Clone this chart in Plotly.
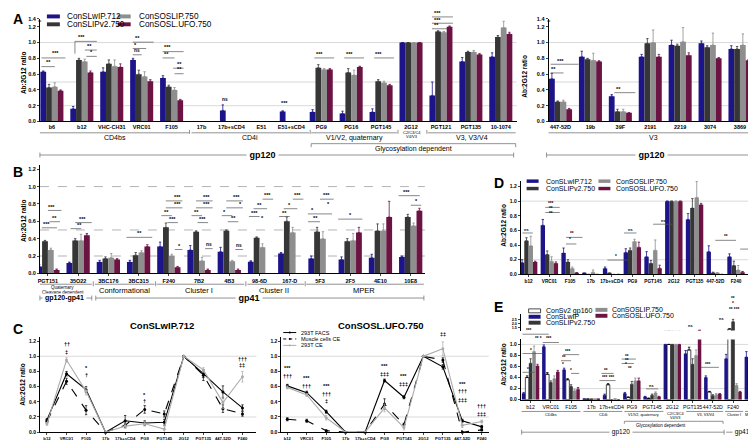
import plotly.graph_objects as go

W, H = 756, 440
FONT = "Liberation Sans, Arial, Helvetica, sans-serif"
BLUE, DARK, GRAY, RED = "#1c1488", "#363636", "#8e8e8e", "#6b1343"
LGRID = "#cfcfcf"

# ---------------- data ----------------
series_names = ["ConSLwIP.712", "ConSLIPv2.750", "ConSOSLIP.750", "ConSOSL.UFO.750"]

a_cats = ["b6", "b12", "VHC-CH31", "VRC01", "F105", "17b", "17b+sCD4", "E51", "E51+sCD4",
          "PG9", "PG16", "PGT145", "2G12", "PGT121", "PGT135", "10-1074"]
a_wip = [0.63, 0.16, 0.63, 0.78, 0.55, None, 0.14, None, 0.125, 0.12, 0.10, 0.12, 1.0, 0.33, 0.76, 0.82]
a_v2 = [0.43, 0.78, 0.73, 0.60, 0.44, None, None, None, None, 0.68, 0.62, 0.51, 1.0, 1.14, 0.88, 1.07]
a_sos = [0.44, 0.76, 0.70, 0.57, 0.40, None, None, None, None, 0.66, 0.59, 0.49, 1.0, 1.13, 0.88, 1.19]
a_ufo = [0.39, 0.62, 0.69, 0.51, 0.27, None, None, None, None, 0.66, 0.69, 0.46, 1.0, 1.20, 0.85, 1.11]
a_wip_err = [0.01, 0.03, 0.05, 0.02, 0.03, 0, 0.07, 0, 0.01, 0.03, 0.03, 0.04, 0, 0.17, 0.05, 0.05]
a_v2_err = [0.04, 0.02, 0.05, 0.05, 0.02, 0, 0, 0, 0, 0.04, 0.05, 0.02, 0, 0.01, 0.01, 0.02]
a_sos_err = [0.05, 0.03, 0.08, 0.06, 0.03, 0, 0, 0, 0, 0.01, 0.06, 0.02, 0, 0.01, 0.02, 0.08]
a_ufo_err = [0.01, 0.02, 0.04, 0.02, 0.01, 0, 0, 0, 0, 0.01, 0.01, 0.01, 0, 0.01, 0.01, 0.02]

v3_cats = ["447-52D", "19b", "39F", "2191", "2219", "3074", "3869"]
v3_wip = [0.54, 0.82, 0.32, 0.82, 0.97, 0.99, 0.92]
v3_v2 = [0.25, 0.79, 0.125, 0.99, 0.96, 0.94, 0.92]
v3_sos = [0.25, 0.775, 0.125, 1.00, 1.01, 0.97, 0.97]
v3_ufo = [0.155, 0.76, 0.11, 0.82, 0.84, 0.80, 0.775]
v3_wip_err = [0.07, 0.07, 0.02, 0.03, 0.06, 0.03, 0.04]
v3_v2_err = [0.01, 0.01, 0.03, 0.06, 0.02, 0.02, 0.03]
v3_sos_err = [0.02, 0.09, 0.03, 0.16, 0.18, 0.15, 0.14]
v3_ufo_err = [0.01, 0.01, 0.0, 0.03, 0.03, 0.01, 0.01]

b_cats = ["PGT151", "35O22", "3BC176", "3BC315", "F240", "7B2", "4B3", "98-6D", "167-D",
          "5F3", "2F5", "4E10", "10E8"]
b_wip = [0.08, 0.12, 0.13, 0.13, 0.31, 0.27, 0.25, 0.135, 0.23, 0.17, 0.16, 0.18, 0.19]
b_v2 = [0.37, 0.38, 0.17, 0.21, 0.53, 0.48, 0.49, 0.41, 0.60, 0.48, 0.37, 0.49, 0.65]
b_sos = [0.27, 0.38, 0.18, 0.24, 0.20, 0.145, 0.14, 0.30, 0.47, 0.40, 0.38, 0.49, 0.55]
b_ufo = [0.04, 0.44, 0.16, 0.31, 0.07, 0.04, 0.04, None, None, None, 0.47, 0.65, 0.72]
b_wip_err = [0.02, 0.01, 0.02, 0.02, 0.05, 0.05, 0.05, 0.01, 0.01, 0.03, 0.03, 0.04, 0.01]
b_v2_err = [0.01, 0.02, 0.02, 0.03, 0.05, 0.01, 0.01, 0.01, 0.05, 0.05, 0.03, 0.08, 0.03]
b_sos_err = [0.02, 0.07, 0.05, 0.02, 0.02, 0.04, 0.01, 0.04, 0.06, 0.08, 0.08, 0.08, 0.03]
b_ufo_err = [0.01, 0.02, 0.01, 0.02, 0.01, 0.01, 0.01, 0, 0, 0, 0.06, 0.18, 0.03]

c_cats = ["b12", "VRC01", "F105", "17b", "17b+sCD4", "PG9", "PGT145", "2G12", "PGT135", "447-52D", "F240"]
c_names = ["293T FACS", "Muscle cells CE", "293T CE"]
c1_facs = [0.16, 0.77, 0.56, 0.0, 0.15, 0.12, 0.13, 1.0, 0.77, 0.53, 0.32]
c1_muscle = [0.14, 0.67, 0.29, 0.0, 0.09, 0.30, 0.24, 1.0, 0.75, 0.31, 0.24]
c1_ce = [0.11, 0.95, 0.54, 0.0, 0.08, 0.11, 0.04, 1.0, 0.82, 0.39, 0.73]
c1_facs_err = [0.02, 0.03, 0.04, 0, 0.07, 0.03, 0.04, 0, 0.05, 0.08, 0.04]
c1_muscle_err = [0.02, 0.04, 0.06, 0, 0.03, 0.05, 0.04, 0, 0.07, 0.05, 0.03]
c1_ce_err = [0.02, 0.03, 0.05, 0, 0.03, 0.03, 0.05, 0, 0.03, 0.08, 0.07]
c2_facs = [0.61, 0.52, 0.27, 0.0, 0.0, 0.68, 0.46, 1.0, 0.86, 0.15, 0.07]
c2_muscle = [0.17, 0.15, 0.02, 0.0, 0.0, 0.37, 0.10, 1.0, 0.95, 0.0, 0.03]
c2_ce = [0.59, 0.49, 0.19, 0.0, 0.0, 0.32, 0.06, 1.0, 1.10, 0.09, 0.14]
c2_facs_err = [0.02, 0.02, 0.02, 0, 0, 0.02, 0.02, 0, 0.03, 0.02, 0.02]
c2_muscle_err = [0.02, 0.02, 0.01, 0, 0, 0.07, 0.02, 0, 0.03, 0.01, 0.01]
c2_ce_err = [0.02, 0.02, 0.03, 0, 0, 0.05, 0.03, 0, 0.09, 0.03, 0.02]

d_cats = ["b12", "VRC01", "F105", "17b", "17b+sCD4", "PG9", "PGT145", "2G12", "PGT135", "447-52D", "F240"]
d_wip = [0.16, 0.67, 0.29, 0.01, 0.08, 0.30, 0.24, 1.0, 0.75, 0.31, 0.24]
d_v2 = [0.46, 0.27, 0.17, 0.0, 0.01, 0.33, 0.15, 1.0, 0.905, 0.02, 0.12]
d_sos = [0.39, 0.18, 0.08, 0.03, 0.0, 0.45, 0.33, 1.0, 1.05, 0.015, 0.06]
d_ufo = [0.17, 0.15, 0.015, 0.0, 0.0, 0.37, 0.085, 1.0, 0.95, 0.0, 0.03]
d_wip_err = [0.04, 0.08, 0.07, 0.01, 0.02, 0.05, 0.07, 0, 0.08, 0.08, 0.04]
d_v2_err = [0.04, 0.05, 0.03, 0, 0.01, 0.03, 0.04, 0, 0.13, 0.01, 0.06]
d_sos_err = [0.13, 0.06, 0.02, 0.03, 0, 0.03, 0.14, 0, 0.22, 0.01, 0.06]
d_ufo_err = [0.01, 0.02, 0.01, 0, 0, 0.07, 0.04, 0, 0.02, 0, 0.01]

e_cats = ["b12", "VRC01", "F105", "17b", "17b+sCD4", "PG9", "PGT145", "2G12", "PGT135", "447-52D", "F240", "2F5"]
e_names = ["ConSv2 gp160", "ConSLwIP", "ConSLIPv2.750", "ConSOSLIP.750", "ConSOSL.UFO.750"]
e_wip = [0.11, 0.96, 0.54, 0.01, 0.08, 0.11, 0.05, 1.0, 0.83, 0.40, 0.74, 0.77]
e_gp160 = [0.40, 0.46, 0.36, 0.01, 0.27, 0.04, 0.02, 1.0, 0.90, 0.14, 1.30, 0.70]
e_v2 = [0.66, 0.31, 0.24, 0.005, 0.0, 0.28, 0.08, 1.0, 0.64, 0.07, 2.2, 0.28]
e_sos = [0.87, 0.38, 0.16, 0.005, 0.01, 0.34, 0.12, 1.0, 0.80, 0.09, 0.26, 0.68]
e_ufo = [0.61, 0.50, 0.19, 0.005, 0.0, 0.34, 0.05, 1.0, 1.11, 0.10, 0.14, 0.96]
e_wip_err = [0.02, 0.03, 0.03, 0, 0.02, 0.02, 0.01, 0, 0.06, 0.03, 0.08, 0.10]
e_gp160_err = [0.03, 0.03, 0.02, 0, 0.02, 0.01, 0.01, 0, 0.05, 0.01, 0, 0.05]
e_v2_err = [0.08, 0.03, 0.03, 0, 0, 0.05, 0.02, 0, 0.10, 0.02, 0.30, 0.10]
e_sos_err = [0.10, 0.05, 0.03, 0, 0, 0.05, 0.02, 0, 0.10, 0.02, 0.03, 0.20]
e_ufo_err = [0.03, 0.03, 0.03, 0, 0, 0.05, 0.01, 0, 0.05, 0.01, 0.01, 0.15]

# ---------------- geometry (pixel boxes of each plotting area) ----------------
P = {
    "A1": dict(i=1, px=(30, 508), py=(8, 112), xr=(-0.4, 15.53), yr=(0, 1.3)),
    "A2": dict(i=2, px=(540, 752), py=(8, 112), xr=(-0.4, 6.67), yr=(0, 1.3)),
    "B": dict(i=3, px=(30, 416), py=(156, 266), xr=(-0.264, 12.47), yr=(0, 1.25)),
    "C1": dict(i=4, px=(30, 247), py=(330, 427), xr=(-0.36, 10.71), yr=(0, 1.26)),
    "C2": dict(i=5, px=(272, 480), py=(330, 427), xr=(-0.31, 10.36), yr=(0, 1.26)),
    "D": dict(i=6, px=(512, 750), py=(172, 267), xr=(-0.385, 11.06), yr=(0, 1.28)),
    "E1": dict(i=7, px=(512, 752), py=(333, 394), xr=(-0.49, 11.33), yr=(0, 1.09)),
    "E2": dict(i=8, px=(512, 752), py=(307, 324), xr=(-0.49, 11.33), yr=(1.1, 3.2)),
}


def ax_ids(p):
    i = P[p]["i"]
    return ("x" if i == 1 else f"x{i}"), ("y" if i == 1 else f"y{i}")


def ux(p, u):
    g = P[p]
    x0, x1 = g["xr"]
    a, b = g["px"]
    return (a + (u - x0) / (x1 - x0) * (b - a)) / W


def vy(p, v):
    g = P[p]
    y0, y1 = g["yr"]
    top, bot = g["py"]
    return 1 - (bot - (v - y0) / (y1 - y0) * (bot - top)) / H


def PX(x):
    return x / W


def PY(y):
    return 1 - y / H


fig = go.Figure()
annotations = []
shapes = []


def text(x, y, s, size=7, bold=False, color="black", xanchor="center", angle=0, bg=None):
    d = dict(x=PX(x), y=PY(y), xref="paper", yref="paper", text=s, showarrow=False,
             xanchor=xanchor, yanchor="middle", textangle=angle,
             font=dict(family=FONT, size=size, color=color, weight="bold" if bold else "normal"))
    if bg:
        d["bgcolor"] = bg
        d["borderpad"] = 0
    annotations.append(d)


def hline(x0, x1, y, color="black", width=0.8, dash=None):
    shapes.append(dict(type="line", xref="paper", yref="paper", x0=PX(x0), x1=PX(x1), y0=PY(y), y1=PY(y),
                       line=dict(color=color, width=width, dash=dash)))


def vline(x, y0, y1, color="black", width=0.8):
    shapes.append(dict(type="line", xref="paper", yref="paper", x0=PX(x), x1=PX(x), y0=PY(y0), y1=PY(y1),
                       line=dict(color=color, width=width)))


def grid(p, vals, dash=None, color=LGRID):
    xa, ya = ax_ids(p)
    for v in vals:
        shapes.append(dict(type="line", xref=f"{xa} domain", yref=ya, x0=0, x1=1, y0=v, y1=v,
                           layer="below", line=dict(color=color, width=0.8, dash=dash)))


def sig(p, u, v, s, size=5.5):
    annotations.append(dict(x=ux(p, u), y=vy(p, v), xref="paper", yref="paper", text=s, showarrow=False,
                            xanchor="center", yanchor="middle",
                            font=dict(family=FONT, size=size, color="black", weight="bold")))


def sigline(p, u0, u1, v, color="#555555"):
    shapes.append(dict(type="line", xref="paper", yref="paper", x0=ux(p, u0), x1=ux(p, u1),
                       y0=vy(p, v), y1=vy(p, v), line=dict(color=color, width=0.7)))


def add_bars(p, cats, vals_list, err_list, colors, total):
    xa, ya = ax_ids(p)
    n = len(vals_list)
    w = total / n
    for k, (vals, errs, col) in enumerate(zip(vals_list, err_list, colors)):
        is_white = col == "white"
        fig.add_trace(go.Bar(
            x=list(range(len(cats))), y=vals, width=w, offset=-total / 2 + k * w,
            marker=dict(color=col, line=dict(width=0.7 if is_white else 0, color="black")),
            error_y=dict(type="data", symmetric=False, array=errs, arrayminus=[0] * len(errs),
                         color="black" if is_white else col, thickness=0.8, width=1.2),
            xaxis=xa, yaxis=ya, showlegend=False, hoverinfo="skip"))


cols4 = [BLUE, DARK, GRAY, RED]
add_bars("A1", a_cats, [a_wip, a_v2, a_sos, a_ufo], [a_wip_err, a_v2_err, a_sos_err, a_ufo_err], cols4, 0.77)
add_bars("A2", v3_cats, [v3_wip, v3_v2, v3_sos, v3_ufo], [v3_wip_err, v3_v2_err, v3_sos_err, v3_ufo_err], cols4, 0.77)
add_bars("B", b_cats, [b_wip, b_v2, b_sos, b_ufo], [b_wip_err, b_v2_err, b_sos_err, b_ufo_err], cols4, 0.77)
add_bars("D", d_cats, [d_wip, d_v2, d_sos, d_ufo], [d_wip_err, d_v2_err, d_sos_err, d_ufo_err], cols4, 0.84)
e_vals = [e_wip, e_gp160, e_v2, e_sos, e_ufo]
e_errs = [e_wip_err, e_gp160_err, e_v2_err, e_sos_err, e_ufo_err]
e_cols = [BLUE, "white", DARK, GRAY, RED]
add_bars("E1", e_cats, e_vals, e_errs, e_cols, 0.86)
add_bars("E2", e_cats, e_vals, e_errs, e_cols, 0.86)

# line panels C
line_styles = [dict(color="black", width=1.1, dash="solid"),
               dict(color="black", width=1.1, dash="dash"),
               dict(color="#ababab", width=1.1, dash="solid")]
for p, sets in (("C1", [(c1_facs, c1_facs_err), (c1_muscle, c1_muscle_err), (c1_ce, c1_ce_err)]),
                ("C2", [(c2_facs, c2_facs_err), (c2_muscle, c2_muscle_err), (c2_ce, c2_ce_err)])):
    xa, ya = ax_ids(p)
    for (vals, errs), ls in zip(sets, line_styles):
        fig.add_trace(go.Scatter(
            x=list(range(len(c_cats))), y=vals, mode="lines+markers", line=ls,
            marker=dict(size=3, color=ls["color"]),
            error_y=dict(type="data", array=errs, color=ls["color"], thickness=0.7, width=1.2),
            xaxis=xa, yaxis=ya, showlegend=False, hoverinfo="skip", cliponaxis=False))

# ---------------- axes ----------------
layout_axes = {}
cat_map = {"A1": a_cats, "A2": v3_cats, "B": b_cats, "C1": c_cats, "C2": c_cats, "D": d_cats,
           "E1": e_cats, "E2": e_cats}
tick_font = dict(family=FONT, size=5.5, color="black", weight="bold")
for p, g in P.items():
    i = g["i"]
    xk = "xaxis" if i == 1 else f"xaxis{i}"
    yk = "yaxis" if i == 1 else f"yaxis{i}"
    xa, ya = ax_ids(p)
    cats = cat_map[p]
    xfont = dict(tick_font)
    if p in ("C1", "C2"):
        xfont["size"] = 4.2
    if p == "D":
        xfont["size"] = 4.7
    if p == "E1":
        xfont = dict(family=FONT, size=5.2, color="black", weight="normal")
    layout_axes[xk] = dict(
        domain=[g["px"][0] / W, g["px"][1] / W], range=list(g["xr"]), anchor=ya,
        tickmode="array", tickvals=list(range(len(cats))), ticktext=cats, tickangle=0,
        tickfont=xfont, showline=True, linecolor="black", linewidth=0.9,
        ticks="outside" if p in ("B", "C1", "C2", "D", "E1") else "", ticklen=2, tickwidth=0.7,
        showgrid=False, zeroline=False, fixedrange=True, visible=(p != "E2"))
    yfont = dict(tick_font)
    if p in ("A1", "A2"):
        tv = [0, 0.2, 0.4, 0.6, 0.8, 1.0, 1.2, 1.3]
        tt = ["0.0", "0.2", "0.4", "0.6", "0.8", "1.0", "1.2", "1.4"]
    elif p == "E1":
        tv = [0, 0.2, 0.4, 0.6, 0.8, 1.0]
        tt = ["0.0", "0.2", "0.4", "0.6", "0.8", "1.0"]
        yfont["size"] = 5
    elif p == "E2":
        tv = [1.5, 2.0, 2.5]
        tt = ["1.5", "2.0", "2.5"]
        yfont["size"] = 3.8
    else:
        tv = [0, 0.2, 0.4, 0.6, 0.8, 1.0, 1.2]
        tt = ["0.0", "0.2", "0.4", "0.6", "0.8", "1.0", "1.2"]
    if p in ("C1", "C2", "D"):
        yfont["size"] = 5
    layout_axes[yk] = dict(
        domain=[1 - g["py"][1] / H, 1 - g["py"][0] / H], range=list(g["yr"]), anchor=xa,
        tickmode="array", tickvals=tv, ticktext=tt, tickfont=yfont,
        showline=True, linecolor="black", linewidth=0.9, ticks="outside", ticklen=2, tickwidth=0.7,
        showgrid=False, zeroline=False, fixedrange=True)

# gridlines
grid("A1", [0.2, 0.5, 1.0])
grid("A2", [0.2, 0.5, 1.0])
grid("B", [0.2, 0.5, 1.0], dash="dash", color="#a0a0a0")
grid("C1", [0.2, 1.0])
grid("C2", [0.2, 1.0])
grid("D", [0.2, 1.0])
grid("E1", [0.2, 1.0])

# ---------------- panel letters & y titles ----------------
for L, x, y in (("A", 8, 8), ("B", 8, 163), ("C", 8, 322), ("D", 490, 174), ("E", 490, 300)):
    text(x, y, L, size=14, bold=True)
for x, y in ((13, 62), (515, 66), (13, 212), (13, 378), (494, 217), (494, 358)):
    text(x, y, "Ab:2G12 ratio", size=6.5, bold=True, angle=-90)
text(30, 10, "≈", size=6)
text(540, 10, "≈", size=6)

# ---------------- legends (manual) ----------------
def patch(x, y, w, h, color, outline=False):
    shapes.append(dict(type="rect", xref="paper", yref="paper", x0=PX(x), x1=PX(x + w),
                       y0=PY(y + h / 2), y1=PY(y - h / 2), fillcolor=color,
                       line=dict(color="black" if outline else color, width=0.7 if outline else 0)))


leg_pos_A = [(37, 5.5, 55), (37, 13.5, 55), (108, 5.5, 127), (108, 13.5, 127)]
for (px_, py_, tx), nm, col in zip(leg_pos_A, series_names, cols4):
    patch(px_, py_, 13, 4, col)
    text(tx, py_, nm, size=8.2, xanchor="left")
leg_pos_D = [(518, 172.5, 535), (518, 180, 535), (590, 172.5, 606), (590, 180, 606)]
for (px_, py_, tx), nm, col in zip(leg_pos_D, series_names, cols4):
    patch(px_, py_, 12, 3.5, col)
    text(tx, py_, nm, size=7, xanchor="left")
leg_pos_E = [(520, 304, 535), (520, 310, 535), (520, 316, 535), (587, 303, 602), (587, 309, 602)]
for (px_, py_, tx), nm, col in zip(leg_pos_E, e_names, ["white", BLUE, DARK, GRAY, RED]):
    patch(px_, py_, 12, 4, col, outline=(col == "white"))
    text(tx, py_, nm, size=7, xanchor="left")
for (yy, nm, ls) in zip((326, 332.5, 339), c_names, line_styles):
    shapes.append(dict(type="line", xref="paper", yref="paper", x0=PX(274), x1=PX(287), y0=PY(yy), y1=PY(yy),
                       line=dict(color=ls["color"], width=1, dash="dot" if ls["dash"] == "dash" else "solid")))
    shapes.append(dict(type="circle", xref="paper", yref="paper", x0=PX(279.5), x1=PX(281.5),
                       y0=PY(yy - 1), y1=PY(yy + 1), fillcolor=ls["color"], line=dict(width=0)))
    text(290, yy, nm, size=5.5, xanchor="left")

text(152, 319, "ConSLwIP.712", size=9.5, bold=True)
text(372, 319, "ConSOSL.UFO.750", size=9.5, bold=True)

# ---------------- group brackets ----------------
# Panel A
for x0, x1, lab, cx in ((30, 180, "CD4bs", 105), (182, 300, "CD4i", 241), (302, 388, "V1/V2, quaternary", 345),
                        (419, 507, "V3, V3/V4", 463)):
    hline(x0, x1, 123.5, color="#777777")
    text(cx, 128.5, lab, size=7)
for xv in (180, 301, 389, 418):
    vline(xv, 120.5, 124.5, color="#777777")
text(403, 123, "C2/C3/C4", size=4)
text(403, 127.5, "V4/V3", size=4)
hline(302, 507, 134.5, color="#777777")
vline(302, 134.5, 138, color="#777777")
vline(507, 134.5, 138, color="#777777")
text(405, 140, "Glycosylation dependent", size=7)
hline(30, 505, 146, color="#777777")
vline(30, 143.5, 148.5, color="#777777")
vline(505, 143.5, 148.5, color="#777777")
text(253, 146, " gp120 ", size=9, bold=True, bg="white")
hline(540, 750, 123.5, color="#777777")
text(645, 128.5, "V3", size=7)
hline(538, 750, 146, color="#777777")
vline(538, 143.5, 148.5, color="#777777")
vline(750, 143.5, 148.5, color="#777777")
text(643, 146, " gp120 ", size=9, bold=True, bg="white")

# Panel B
for x0, x1 in ((30, 82), (85, 145), (147, 235), (238, 295), (297, 415)):
    hline(x0, x1, 277, color="#777777")
for xv in (83.5, 146, 236.5, 296):
    vline(xv, 274, 279, color="#777777")
text(53, 280.5, "Quaternary", size=4.5)
text(53, 285.5, "Cleavage dependent", size=4.5)
text(115, 283, "Conformational", size=7.5)
text(190, 283, "Cluster I", size=7.5)
text(265, 283, "Cluster II", size=7.5)
text(355, 283, "MPER", size=7.5)
hline(30, 82, 291, color="#777777")
vline(30, 288.5, 293.5, color="#777777")
vline(82, 288.5, 293.5, color="#777777")
text(55, 291, " gp120-gp41 ", size=7, bold=True, bg="white")
hline(86, 415, 291, color="#777777")
vline(86, 288.5, 293.5, color="#777777")
vline(415, 288.5, 293.5, color="#777777")
text(240, 291, " gp41 ", size=9, bold=True, bg="white")

# Panel E
for x0, x1, lab, cx in ((513, 572, "CD4bs", 542), (575, 614, "CD4i", 595), (616, 655, "V1/V2, quaternary", 635),
                        (678, 715, "V3, V3/V4", 697), (717, 735, "Cluster I", 726), (737, 750, "MPER", 742)):
    hline(x0, x1, 406, color="#777777")
    text(cx, 410, lab, size=3.8)
text(667, 409, "C2/C3/C4", size=3.8)
text(667, 413, "V4/V3", size=3.8)
hline(616, 715, 416, color="#777777")
vline(616, 416, 418.5, color="#777777")
vline(715, 416, 418.5, color="#777777")
text(653, 420.5, "Glycosylation dependent", size=4.5)
hline(513, 716, 427, color="#777777")
vline(513, 424.5, 429.5, color="#777777")
vline(716, 424.5, 429.5, color="#777777")
text(613, 427, " gp120 ", size=6.5, bg="white")
hline(718, 752, 427, color="#777777")
text(734, 427, " gp41 ", size=6.5, bg="white")

# ---------------- significance marks ----------------
A1_sig = [(0.13, 0.87, "***"), (-0.13, 0.75, "**"), (1.0, 1.07, "***"), (1.27, 0.96, "**"), (1.33, 0.88, "*"),
          (2.87, 1.06, "**"), (2.8, 0.975, "*"), (2.83, 0.895, "ns"), (3.87, 0.94, "***"), (3.83, 0.86, "**"),
          (4.27, 0.73, "**"), (4.27, 0.66, "**"), (5.77, 0.28, "ns"), (7.77, 0.24, "***"),
          (8.93, 0.86, "***"), (9.93, 0.86, "***"), (10.93, 0.86, "***"),
          (12.87, 1.37, "***"), (12.87, 1.29, "***"), (12.85, 1.22, "**")]
A1_lines = [(-0.35, 0.45, 0.82), (-0.35, 0.1, 0.71), (0.77, 1.5, 1.03), (1.1, 1.5, 0.92), (1.15, 1.5, 0.84),
            (2.7, 3.4, 1.02), (2.7, 3.15, 0.94), (2.7, 3.0, 0.86), (3.7, 4.4, 0.90), (3.7, 4.1, 0.82),
            (4.05, 4.4, 0.69), (4.1, 4.4, 0.62), (8.77, 9.43, 0.82), (9.77, 10.43, 0.82), (10.77, 11.43, 0.82),
            (12.7, 13.4, 1.34), (12.7, 13.4, 1.26), (12.7, 13.2, 1.19)]
A2_sig = [(-0.23, 0.66, "**"), (0.0, 0.77, "***"), (1.93, 0.41, "**")]
A2_lines = [(-0.33, 0.1, 0.63), (-0.33, 0.6, 0.74), (1.8, 2.5, 0.38)]
B_sig = [(0.13, 0.77, "***"), (0.23, 0.64, "**"), (-0.03, 0.57, "***"), (1.15, 0.63, "***"), (1.05, 0.56, "**"),
         (3.04, 0.47, "**"),
         (4.29, 0.88, "***"), (4.29, 0.80, "***"), (3.93, 0.71, "**"), (4.13, 0.63, "***"), (4.36, 0.32, "*"),
         (5.26, 0.88, "***"), (5.26, 0.80, "***"), (4.9, 0.71, "**"), (5.1, 0.63, "***"), (5.33, 0.33, "ns"),
         (6.23, 0.88, "***"), (6.36, 0.80, "*"), (5.84, 0.71, "*"), (6.13, 0.64, "**"), (6.33, 0.32, "ns"),
         (7.26, 0.90, "***"), (7.0, 0.79, "**"), (6.83, 0.70, "***"), (7.1, 0.64, "*"),
         (8.25, 0.90, "***"), (7.99, 0.79, "*"), (7.82, 0.70, "**"),
         (9.21, 0.90, "***"), (9.27, 0.80, "*"), (8.75, 0.73, "*"), (8.84, 0.64, "**"),
         (10.0, 0.67, "*"), (11.85, 0.94, "***"), (12.18, 0.83, "*")]
B_lines = [(0.0, 0.45, 0.74), (0.05, 0.4, 0.61), (-0.2, 0.3, 0.54), (0.9, 1.45, 0.60), (0.75, 1.1, 0.53),
           (2.6, 3.45, 0.43),
           (3.9, 4.45, 0.85), (3.9, 4.45, 0.77), (3.75, 4.1, 0.68), (3.95, 4.3, 0.60), (4.2, 4.45, 0.29),
           (4.9, 5.45, 0.85), (4.9, 5.45, 0.77), (4.75, 5.1, 0.68), (4.95, 5.3, 0.60), (5.2, 5.45, 0.30),
           (5.9, 6.45, 0.85), (5.9, 6.45, 0.77), (5.75, 6.1, 0.68), (5.95, 6.3, 0.61), (6.2, 6.45, 0.29),
           (7.1, 7.45, 0.87), (6.8, 7.25, 0.76), (6.65, 7.0, 0.67),
           (8.1, 8.45, 0.87), (7.8, 8.25, 0.76), (7.65, 8.0, 0.67),
           (9.0, 9.45, 0.87), (8.6, 9.4, 0.70), (8.6, 9.0, 0.61),
           (9.6, 10.4, 0.64), (11.6, 12.3, 0.91), (12.0, 12.35, 0.80)]
C1_sig = [(1, 1.16, "††"), (1, 1.06, "‡"), (2, 0.84, "*"), (2, 0.75, "†"), (5, 0.49, "*"), (5, 0.41, "†"),
          (10, 0.97, "†††"), (10, 0.88, "‡‡")]
C2_sig = [(0, 0.84, "***"), (0, 0.74, "†††"), (1, 0.71, "***"), (1, 0.61, "†††"), (2, 0.61, "***"),
          (2, 0.50, "†††"), (2, 0.41, "‡"), (5, 0.87, "***"), (5, 0.77, "‡‡‡"), (6, 0.74, "***"),
          (6, 0.64, "‡‡‡"), (8, 1.29, "‡‡"), (9, 0.63, "***"), (9, 0.54, "†††"), (9, 0.43, "‡‡‡"),
          (10, 0.34, "†††"), (10, 0.245, "‡‡‡")]
D_sig = [(-0.1, 0.61, "ns"), (1.1, 0.97, "***"), (1.1, 0.90, "**"), (1.1, 0.83, "**"), (2.07, 0.56, "**"),
         (2.0, 0.47, "*"), (4.23, 0.25, "*"), (4.9, 0.61, "ns"), (6.5, 0.73, "ns"), (9.5, 0.52, "**"),
         (10.7, 0.39, "*")]
D_lines = [(-0.3, 0.2, 0.58), (0.8, 1.5, 0.93), (0.8, 1.5, 0.86), (1.8, 2.6, 0.52), (1.8, 2.3, 0.43),
           (3.8, 4.8, 0.21), (4.6, 5.2, 0.58), (6.0, 7.0, 0.70), (9.0, 10.0, 0.48), (10.2, 11.0, 0.36)]
E_sig = [(-0.15, 0.55, "*"), (0.0, 0.89, "*"), (0.4, 1.10, "** *"), (-0.1, 1.25, "***"), (0.89, 1.11, "***"),
         (1.87, 0.875, "***"), (1.63, 0.76, "**"), (1.6, 0.64, "*"), (2.02, 0.53, "*"), (3.74, 0.53, "**"),
         (3.84, 0.40, "*** ***"), (4.78, 0.79, "**"), (4.78, 0.71, "**"), (4.7, 0.64, "*"), (4.9, 0.56, "**"),
         (5.96, 0.25, "ns"), (7.88, 1.35, "ns"), (8.77, 0.64, "***"), (10.0, 1.84, "**"), (10.0, 1.74, "*"),
         (10.05, 1.64, "** ***"), (9.45, 1.47, "ns")]
E_lines = [(-0.4, 0.2, 0.51), (-0.4, 0.6, 0.85), (-0.4, 0.9, 1.20), (0.6, 1.4, 1.05), (1.6, 2.4, 0.83),
           (1.5, 2.0, 0.72), (2.0, 2.4, 0.49), (3.4, 4.2, 0.36), (3.5, 4.1, 0.49), (4.5, 5.2, 0.75),
           (4.5, 5.1, 0.67), (5.7, 6.3, 0.21), (8.4, 9.3, 0.60)]

for p, sl, ll in (("A1", A1_sig, A1_lines), ("A2", A2_sig, A2_lines), ("B", B_sig, B_lines),
                  ("C1", C1_sig, []), ("C2", C2_sig, []), ("D", D_sig, D_lines), ("E1", E_sig, E_lines)):
    for u, v, s in sl:
        sz = 5.5 if p not in ("D", "E1") else 4.6
        if s == "ns":
            sz -= 0.7
        sig(p, u, v, s, size=sz)
    for u0, u1, v in ll:
        sigline(p, u0, u1, v - 0.015)
vline(ux("A1", 0.77) * W, H * (1 - vy("A1", 1.015)), H * (1 - vy("A1", 0.86)), color="#555555", width=0.7)

fig.update_layout(
    width=W, height=H, autosize=False, margin=dict(l=0, r=0, t=0, b=0),
    paper_bgcolor="white", plot_bgcolor="white", showlegend=False,
    barmode="overlay", font=dict(family=FONT, size=7, color="black"),
    annotations=annotations, shapes=shapes, **layout_axes)

fig.write_html("out.html")
